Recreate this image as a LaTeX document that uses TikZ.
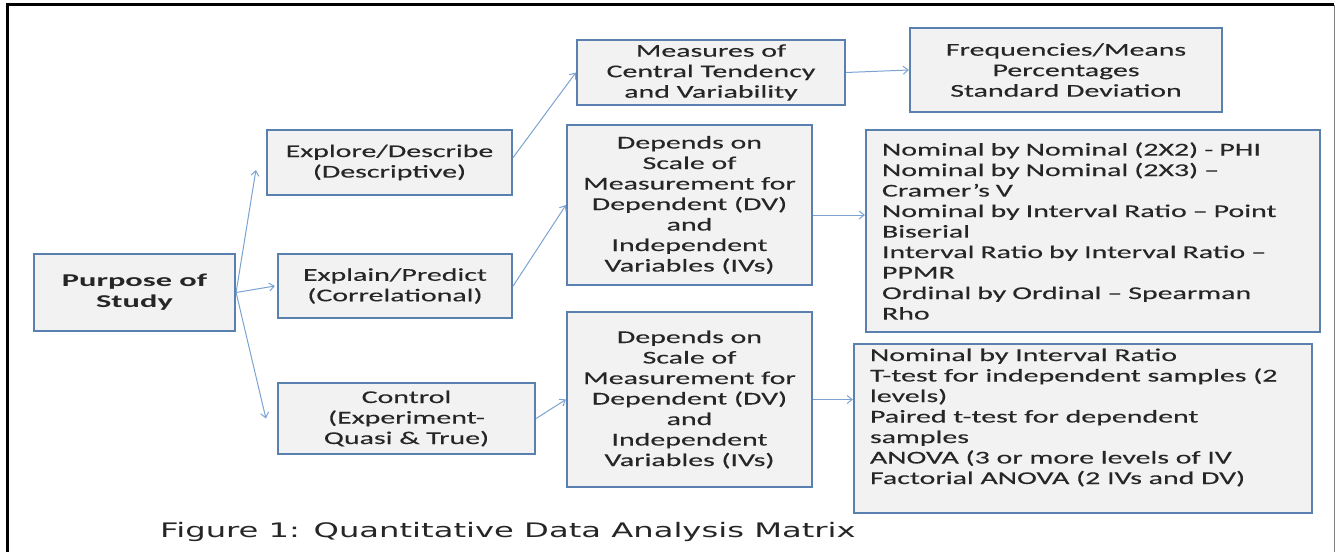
\documentclass[tikz,border=0pt]{standalone}
\usepackage{fontspec}
\setmainfont{Carlito}
\newfontfamily\boxfont{Carlito}[FakeStretch=1.66, FakeBold=0.2]
\newfontfamily\boldboxfont{Carlito Bold}[FakeStretch=1.8]
\newfontfamily\capfont{DejaVu Sans}[FakeStretch=1.61]
\usetikzlibrary{arrows.meta}
\definecolor{boxborder}{HTML}{5A80B0}
\definecolor{boxfill}{HTML}{F2F2F2}
\definecolor{arrowcol}{HTML}{7BA3D2}
\definecolor{txt}{HTML}{262626}
\tikzset{
 box/.style={draw=boxborder, fill=boxfill, line width=2.2pt, inner sep=0pt,
   font=\boxfont\fontsize{18}{20.5}\selectfont, text=txt},
 cbox/.style={box, align=center},
 lbox/.style={box, align=left, inner xsep=16pt, text width=#1},
 arr/.style={draw=arrowcol, line width=1pt, -{Straight Barb[length=5pt,width=8pt]}},
}
\begin{document}
\begin{tikzpicture}[x=1pt,y=-1pt]
\useasboundingbox (0,0) rectangle (1335,552);
% frame
\draw[line width=3pt] (7.5,552) -- (7.5,4.5) -- (1334,4.5);
\draw[gray, line width=1pt] (1334,4.5) -- (1334,552);
% nodes
\node[cbox, minimum width=201, minimum height=77, font=\boldboxfont\fontsize{18}{21}\selectfont] (purpose) at (134.5,292.5) {Purpose of\\Study};
\node[cbox, minimum width=245, minimum height=65] (explore) at (389.5,162.5) {Explore/Describe\\(Descriptive)};
\node[cbox, minimum width=234, minimum height=64] (explain) at (395,286) {Explain/Predict\\(Correlational)};
\node[cbox, minimum width=257, minimum height=71] (control) at (406.5,418.5) {Control\\(Experiment-\\Quasi \& True)};
\node[cbox, minimum width=268, minimum height=65] (measures) at (711,72.5) {Measures of\\Central Tendency\\and Variability};
\node[cbox, minimum width=245, minimum height=160] (dep1) at (689.5,205) {Depends on\\Scale of\\Measurement for\\Dependent (DV)\\and\\Independent\\Variables (IVs)};
\node[cbox, minimum width=245, minimum height=175] (dep2) at (689.5,399.5) {Depends on\\Scale of\\Measurement for\\Dependent (DV)\\and\\Independent\\Variables (IVs)};
\node[cbox, minimum width=312, minimum height=84] (freq) at (1066,70) {Frequencies/Means\\Percentages\\Standard Deviation};
\node[lbox=422pt, minimum height=202] (nb1) at (1093,231) {Nominal by Nominal (2X2) - PHI\\Nominal by Nominal (2X3) –\\Cramer’s V\\Nominal by Interval Ratio – Point\\Biserial\\Interval Ratio by Interval Ratio –\\PPMR\\Ordinal by Ordinal – Spearman\\Rho};
\node[box, inner xsep=16pt, inner ysep=4pt, minimum width=458, minimum height=169] (nb2) at (1083,428.5) {\parbox[c][160pt][t]{426pt}{\raggedright Nominal by Interval Ratio\\T-test for independent samples (2\\levels)\\Paired t-test for dependent\\samples\\ANOVA (3 or more levels of IV\\Factorial ANOVA (2 IVs and DV)}};
% caption
\node[font=\capfont\fontsize{20}{24}\selectfont, text=txt, anchor=base west, inner sep=0pt] (cap) at (160,537) {Figure 1: Quantitative Data Analysis Matrix};
% connectors
\draw[arr] (purpose.east) -- ([xshift=-10pt,yshift=-7.5pt]explore.west);
\draw[arr] (purpose.east) -- ([xshift=-2pt]explain.west);
\draw[arr] (purpose.east) -- ([xshift=-11pt]control.west);
\draw[arr] ([yshift=5pt]explore.east) -- (measures.west);
\draw[arr] (explain.east) -- (dep1.west);
\draw[arr] (control.east) -- (dep2.west);
\draw[arr] (measures.east) -- (freq.west);
\draw[arr] ([yshift=-10pt]dep1.east) -- ([yshift=-10pt]dep1.east -| nb1.west);
\draw[arr] (dep2.east) -- (dep2.east -| nb2.west);
\end{tikzpicture}
\end{document}
